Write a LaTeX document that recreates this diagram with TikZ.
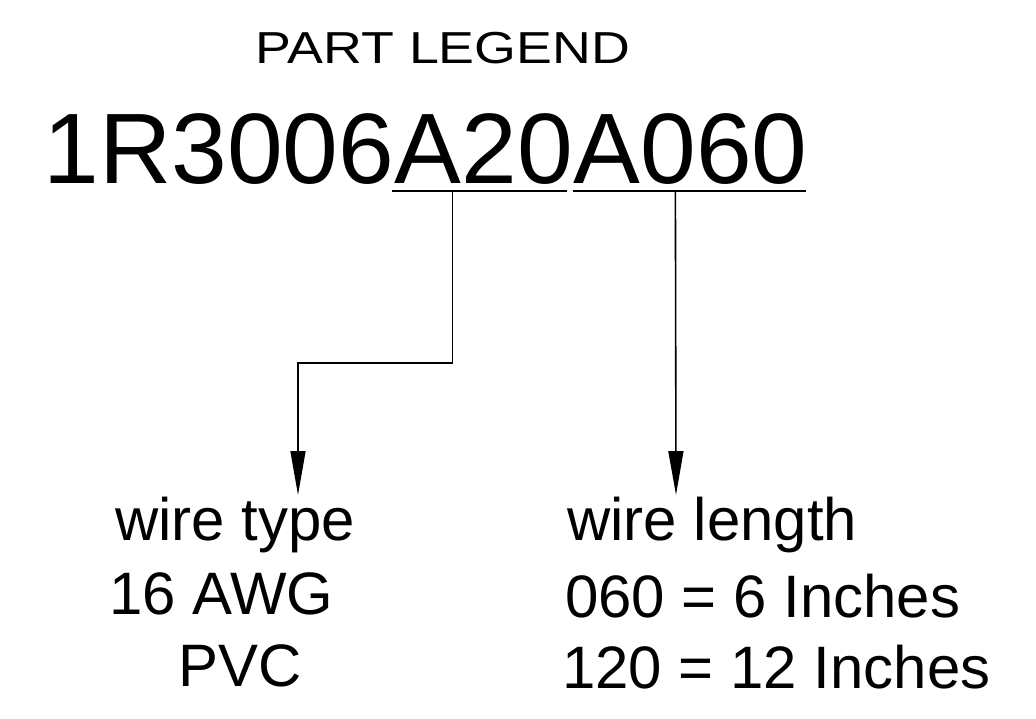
\documentclass[tikz,border=0pt]{standalone}
\usepackage{fontspec}
\setmainfont{Liberation Sans}
\newfontfamily\titlefont[FakeStretch=1.2]{Liberation Sans}
\usetikzlibrary{arrows.meta,positioning,calc}

\tikzset{
  code/.style={inner sep=0pt, anchor=base west, font=\fontsize{57}{60}\selectfont},
  legendtext/.style={inner sep=0pt, anchor=base west, font=\fontsize{34.1}{36}\selectfont},
  uline/.style={line width=0.9pt},
  lead/.style={line width=0.9pt, -{Triangle[length=25pt,width=8.5pt]}},
}

\begin{document}
\begin{tikzpicture}[x=0.02cm,y=-0.02cm]
  \useasboundingbox (0,0) rectangle (1036,718);
  % heading and part number
  \node[inner sep=0pt, anchor=base, font=\titlefont\fontsize{25.5}{28}\selectfont] (legend) at (443,63) {PART LEGEND};
  \node[code] (prefix) at (43,183) {1R3006};
  \node[code] (typecode) at (prefix.base east) {A20};
  \node[code] (lencode) at (typecode.base east) {A060};
  \draw[uline] ($(typecode.base west)+(-3,8)$) -- ($(typecode.base east)+(-6,8)$);
  \draw[uline] ($(lencode.base west)+(0,8)$) -- ($(lencode.base east)+(-2,8)$);
  % wire type
  \node[legendtext] (typelabel) at (115,540) {wire type};
  \node[legendtext] (gauge) at (109,614) {16 AWG};
  \node[legendtext] (insul) at (178,686) {PVC};
  % wire length
  \node[legendtext] (lenlabel) at (567,540) {wire length};
  \node[legendtext] (len6) at (565,617) {060 = 6 Inches};
  \node[legendtext] (len12) at (562,688) {120 = 12 Inches};
  % leaders
  \coordinate (typedrop) at ($(typecode.base west)+(58,8)$);
  \coordinate (lendrop) at ($(lencode.base west)+(102,8)$);
  \coordinate (typetip) at ($(typelabel.base west)+(183,-45)$);
  \coordinate (lentip) at ($(lenlabel.base west)+(109,-45)$);
  \draw[lead] (typedrop) -- ++(0,172) -| (typetip);
  \draw[lead] (lendrop) -- (lentip);
\end{tikzpicture}
\end{document}
